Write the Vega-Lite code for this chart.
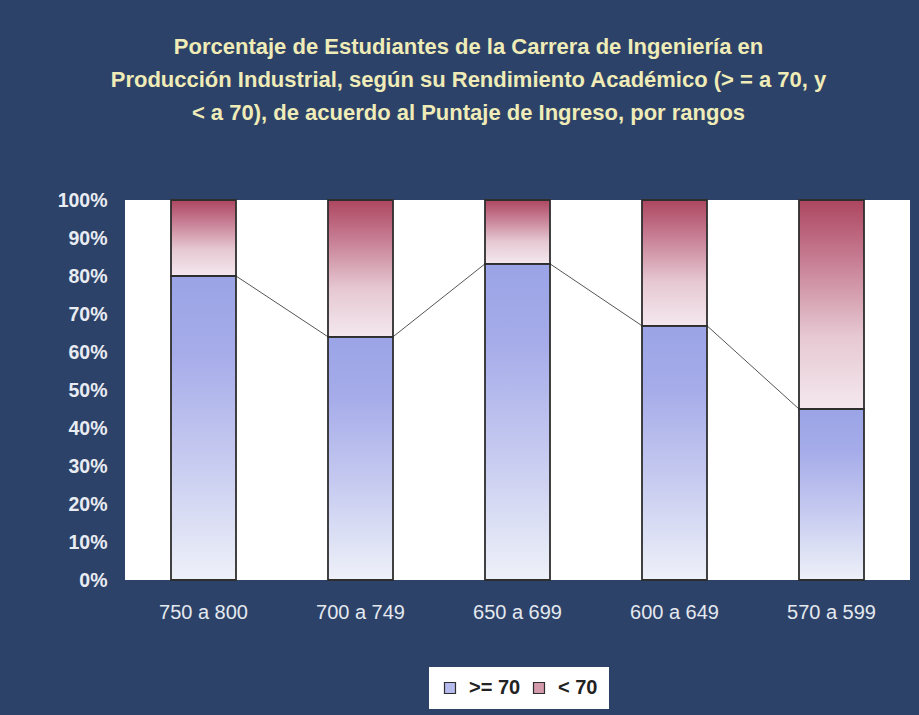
{
  "$schema": "https://vega.github.io/schema/vega-lite/v6.json",
  "width": 785,
  "height": 380,
  "autosize": {"type": "none"},
  "padding": {"left": 125, "top": 200, "right": 9, "bottom": 135},
  "background": "#2d4268",
  "title": {
    "text": ["Porcentaje de Estudiantes de la Carrera de Ingeniería en", "Producción Industrial, según su Rendimiento Académico (> = a 70, y", "< a 70), de acuerdo al Puntaje de Ingreso, por rangos"],
    "anchor": "middle",
    "dx": -49,
    "offset": 65,
    "font": "Liberation Sans",
    "fontSize": 22,
    "fontWeight": "bold",
    "color": "#efecb8",
    "lineHeight": 33
  },
  "datasets": {
    "barras": [
      {"rango": "750 a 800", "serie": ">= 70", "orden": 1, "pct": 80},
      {"rango": "750 a 800", "serie": "< 70", "orden": 2, "pct": 20},
      {"rango": "700 a 749", "serie": ">= 70", "orden": 1, "pct": 64},
      {"rango": "700 a 749", "serie": "< 70", "orden": 2, "pct": 36},
      {"rango": "650 a 699", "serie": ">= 70", "orden": 1, "pct": 83.2},
      {"rango": "650 a 699", "serie": "< 70", "orden": 2, "pct": 16.8},
      {"rango": "600 a 649", "serie": ">= 70", "orden": 1, "pct": 66.9},
      {"rango": "600 a 649", "serie": "< 70", "orden": 2, "pct": 33.1},
      {"rango": "570 a 599", "serie": ">= 70", "orden": 1, "pct": 45},
      {"rango": "570 a 599", "serie": "< 70", "orden": 2, "pct": 55}
    ],
    "lineas": [
      {"desde": "750 a 800", "hasta": "700 a 749", "v1": 80, "v2": 64},
      {"desde": "700 a 749", "hasta": "650 a 699", "v1": 64, "v2": 83.2},
      {"desde": "650 a 699", "hasta": "600 a 649", "v1": 83.2, "v2": 66.9},
      {"desde": "600 a 649", "hasta": "570 a 599", "v1": 66.9, "v2": 45}
    ]
  },
  "layer": [
    {
      "data": {"name": "barras"},
      "mark": {"type": "bar", "opacity": 0},
      "encoding": {
        "x": {"field": "rango", "type": "nominal"},
        "y": {"field": "pct", "type": "quantitative", "stack": "zero"},
        "order": {"field": "orden", "type": "quantitative"},
        "fill": {
          "field": "serie",
          "type": "nominal",
          "scale": {"domain": [">= 70", "< 70"], "range": ["#b6bbee", "#d29aab"]},
          "legend": {
            "title": null,
            "orient": "none",
            "legendX": 304,
            "legendY": 467,
            "direction": "horizontal",
            "fillColor": "white",
            "padding": 11,
            "symbolType": "square",
            "symbolSize": 121,
            "symbolOpacity": 1,
            "symbolStrokeColor": "#2e2e2e",
            "symbolStrokeWidth": 1.2,
            "labelOffset": 9,
            "columnPadding": 8,
            "labelFont": "Liberation Sans",
            "labelFontSize": 20,
            "labelFontWeight": "bold",
            "labelColor": "#222222"
          }
        }
      }
    },
    {
      "data": {"name": "lineas"},
      "mark": {"type": "rule", "color": "#555555", "strokeWidth": 1, "xOffset": 32.5, "x2Offset": -32.5},
      "encoding": {
        "x": {"field": "desde", "type": "nominal"},
        "x2": {"field": "hasta"},
        "y": {"field": "v1", "type": "quantitative"},
        "y2": {"field": "v2"}
      }
    },
    {
      "data": {"name": "barras"},
      "mark": {"type": "bar", "strokeWidth": 1.8},
      "encoding": {
        "x": {"field": "rango", "type": "nominal"},
        "y": {"field": "pct", "type": "quantitative", "stack": "zero"},
        "order": {"field": "orden", "type": "quantitative"},
        "stroke": {
          "field": "serie",
          "type": "nominal",
          "scale": {"domain": [">= 70", "< 70"], "range": ["#2e2e2e", "#2e2e2e"]},
          "legend": null
        },
        "fill": {
          "condition": {
            "test": "datum.serie === '>= 70'",
            "value": {"gradient": "linear", "x1": 0, "y1": 1, "x2": 0, "y2": 0, "stops": [{"offset": 0, "color": "#eef1f8"}, {"offset": 0.4, "color": "#c6caf0"}, {"offset": 0.75, "color": "#a6ace9"}, {"offset": 1, "color": "#9aa4e6"}]}
          },
          "value": {"gradient": "linear", "x1": 0, "y1": 1, "x2": 0, "y2": 0, "stops": [{"offset": 0, "color": "#f4e8ee"}, {"offset": 0.35, "color": "#e6c8d2"}, {"offset": 0.7, "color": "#c88096"}, {"offset": 1, "color": "#ad4660"}]}
        }
      }
    }
  ],
  "resolve": {"scale": {"x": "shared", "y": "shared"}},
  "encoding": {
    "x": {
      "scale": {"domain": ["750 a 800", "700 a 749", "650 a 699", "600 a 649", "570 a 599"], "paddingInner": 0.586, "paddingOuter": 0.293},
      "axis": {"title": null, "labelAngle": 0, "ticks": false, "domain": false, "labelPadding": 22, "labelFont": "Liberation Sans", "labelFontSize": 20, "labelColor": "#e4e9f0"}
    },
    "y": {
      "scale": {"domain": [0, 100]},
      "axis": {"title": null, "values": [0, 10, 20, 30, 40, 50, 60, 70, 80, 90, 100], "labelExpr": "datum.value + '%'", "grid": false, "ticks": false, "domain": false, "labelPadding": 18, "labelFont": "Liberation Sans", "labelFontSize": 19.5, "labelFontWeight": "bold", "labelColor": "#e8ecf2"}
    }
  },
  "config": {"view": {"fill": "white", "stroke": null}}
}
